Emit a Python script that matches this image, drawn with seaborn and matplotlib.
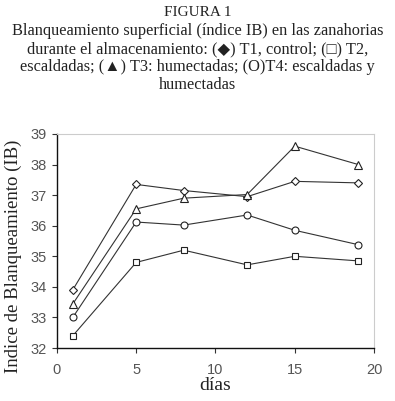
import matplotlib
matplotlib.use("Agg")
import matplotlib.pyplot as plt
import seaborn as sns
import pandas as pd

dias = [1, 5, 8, 12, 15, 19]
t1_control = [33.9, 37.35, 37.15, 36.95, 37.45, 37.4]
t2_escaldadas = [32.4, 34.8, 35.2, 34.72, 35.0, 34.85]
t3_humectadas = [33.44, 36.55, 36.9, 37.02, 38.6, 38.0]
t4_esc_hum = [33.0, 36.12, 36.02, 36.35, 35.85, 35.38]

series = [
    ("T1", t1_control, "D", 4.5),
    ("T2", t2_escaldadas, "s", 5.0),
    ("T3", t3_humectadas, "^", 5.5),
    ("T4", t4_esc_hum, "o", 5.0),
]

sns.set_theme(style="white")
plt.rcParams["font.family"] = ["Liberation Serif", "DejaVu Serif"]

fig = plt.figure(figsize=(3.95, 4.01), dpi=100)
ax = fig.add_axes([0.144, 0.132, 0.803, 0.534])

for name, vals, mk, ms in series:
    df = pd.DataFrame({"dias": dias, "IB": vals})
    sns.lineplot(data=df, x="dias", y="IB", ax=ax, color="#333333", linewidth=0.8,
                 marker=mk, markersize=ms, markerfacecolor="white",
                 markeredgecolor="#222222", markeredgewidth=0.8)

ax.set_xlim(0, 20)
ax.set_ylim(32, 39)
ax.set_xticks([0, 5, 10, 15, 20])
ax.set_yticks(range(32, 40))
ax.tick_params(axis="both", which="both", direction="out", length=3.5, width=0.8,
               colors="#333333", labelcolor="#555555", labelsize=10.5, bottom=True, left=True)
ax.tick_params(axis="x", pad=7)
for lab in ax.get_xticklabels() + ax.get_yticklabels():
    lab.set_fontfamily("Liberation Sans")
ax.set_xlabel("días", fontsize=14, labelpad=0, color="#222222")
ax.set_ylabel("Indice de Blanqueamiento (IB)", fontsize=13.5, color="#222222")
ax.yaxis.set_label_coords(-0.11, 0.43)
for s in ["left", "bottom"]:
    ax.spines[s].set_color("#111111")
    ax.spines[s].set_linewidth(1.0)
for s in ["top", "right"]:
    ax.spines[s].set_color("#cccccc")
    ax.spines[s].set_linewidth(0.8)

title_lines = [
    "FIGURA 1",
    "Blanqueamiento superficial (índice IB) en las zanahorias",
    "durante el almacenamiento: (◆) T1, control; (□) T2,",
    "escaldadas; (▲) T3: humectadas; (O)T4: escaldadas y",
    "humectadas",
]
ys = [13, 31, 49, 67, 85]
sizes = [11.0, 11.8, 11.8, 11.8, 11.8]
for t, y, fs in zip(title_lines, ys, sizes):
    fig.text(0.5, 1 - y / 401, t, ha="center", va="center", fontsize=fs,
             color="#222222", family=["Liberation Serif", "DejaVu Sans"])

fig.savefig("out.png", dpi=100)
